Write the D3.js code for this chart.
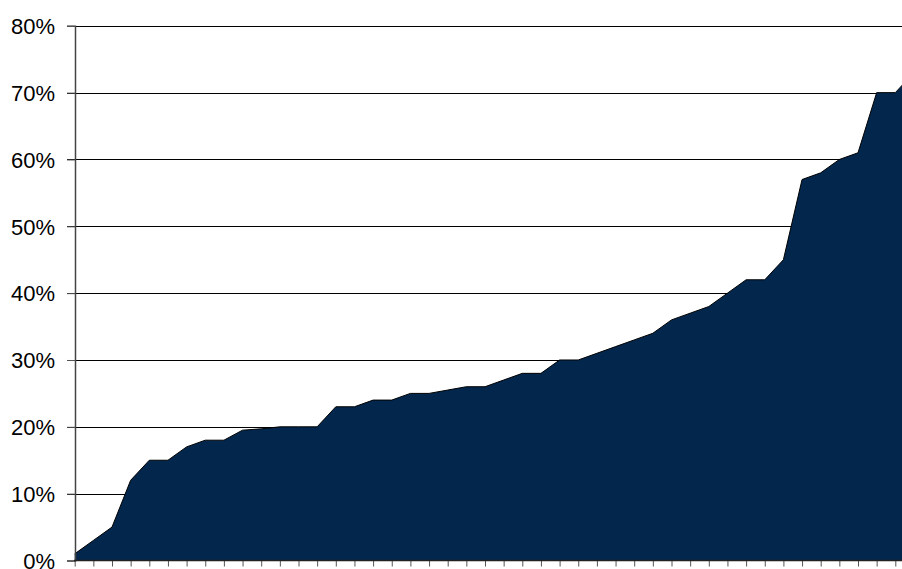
<!DOCTYPE html>
<html>
<head>
<meta charset="utf-8">
<script src="https://cdn.jsdelivr.net/npm/d3@7"></script>
<style>
html,body{margin:0;padding:0;background:#fff;overflow:hidden;}
svg{display:block;}
</style>
</head>
<body>
<script>
// Data: share values (%) per category (category index 0..45; last one lies past the visible edge)
const categories = d3.range(46);
const values = [1, 3, 5, 12, 15, 15, 17, 18, 18, 19.5, 19.7, 20, 20, 20, 23, 23, 24, 24, 25, 25,
  25.5, 26, 26, 27, 28, 28, 30, 30, 31, 32, 33, 34, 36, 37, 38, 40, 42, 42, 45, 57,
  58, 60, 61, 70, 70, 73];
const yTicks = [0, 10, 20, 30, 40, 50, 60, 70, 80];

const W = 902, H = 569;
const svg = d3.select("body").append("svg").attr("width", W).attr("height", H);

const x = d3.scaleLinear().domain([0, 44]).range([74.7, 895.3]);
const y = d3.scaleLinear().domain([0, 80]).range([560.5, 25.8]);

// gridlines
svg.append("g").selectAll("line").data(yTicks.filter(d => d > 0)).join("line")
  .attr("x1", 67).attr("x2", W)
  .attr("y1", d => Math.round(y(d)) + 0.5).attr("y2", d => Math.round(y(d)) + 0.5)
  .attr("stroke", "#000").attr("stroke-width", 1);

// area
const data = categories.map((c, i) => ({c, v: values[i]}));
const area = d3.area().x(d => x(d.c)).y0(y(0)).y1(d => y(d.v));
const line = d3.line().x(d => x(d.c)).y(d => y(d.v));
svg.append("path").datum(data).attr("d", area).attr("fill", "#03264c");
svg.append("path").datum(data).attr("d", line).attr("fill", "none")
  .attr("stroke", "#000").attr("stroke-width", 1);

// y axis
const yAxis = d3.axisLeft(y).tickValues(yTicks).tickSize(8).tickFormat(d => d + "%");
const gy = svg.append("g").attr("transform", "translate(75,0)").call(yAxis);
gy.select(".domain").attr("stroke", "#444").attr("stroke-width", 1.5);
gy.selectAll(".tick line").attr("stroke", "#555");
gy.selectAll(".tick text").attr("x", -20).attr("font-family", "Liberation Sans, Arial, sans-serif")
  .attr("font-size", 22).attr("fill", "#000").attr("dy", "0.35em");

// x axis
const xAxis = d3.axisBottom(x).tickValues(d3.range(0, 46)).tickSize(6).tickFormat("");
const gx = svg.append("g").attr("transform", "translate(0,560.5)").call(xAxis);
gx.select(".domain").remove();
gx.append("line").attr("x1", 74).attr("x2", W).attr("y1", 0).attr("y2", 0)
  .attr("stroke", "#222").attr("stroke-width", 1.5);
gx.selectAll(".tick line").attr("stroke", "#555");
</script>
</body>
</html>
